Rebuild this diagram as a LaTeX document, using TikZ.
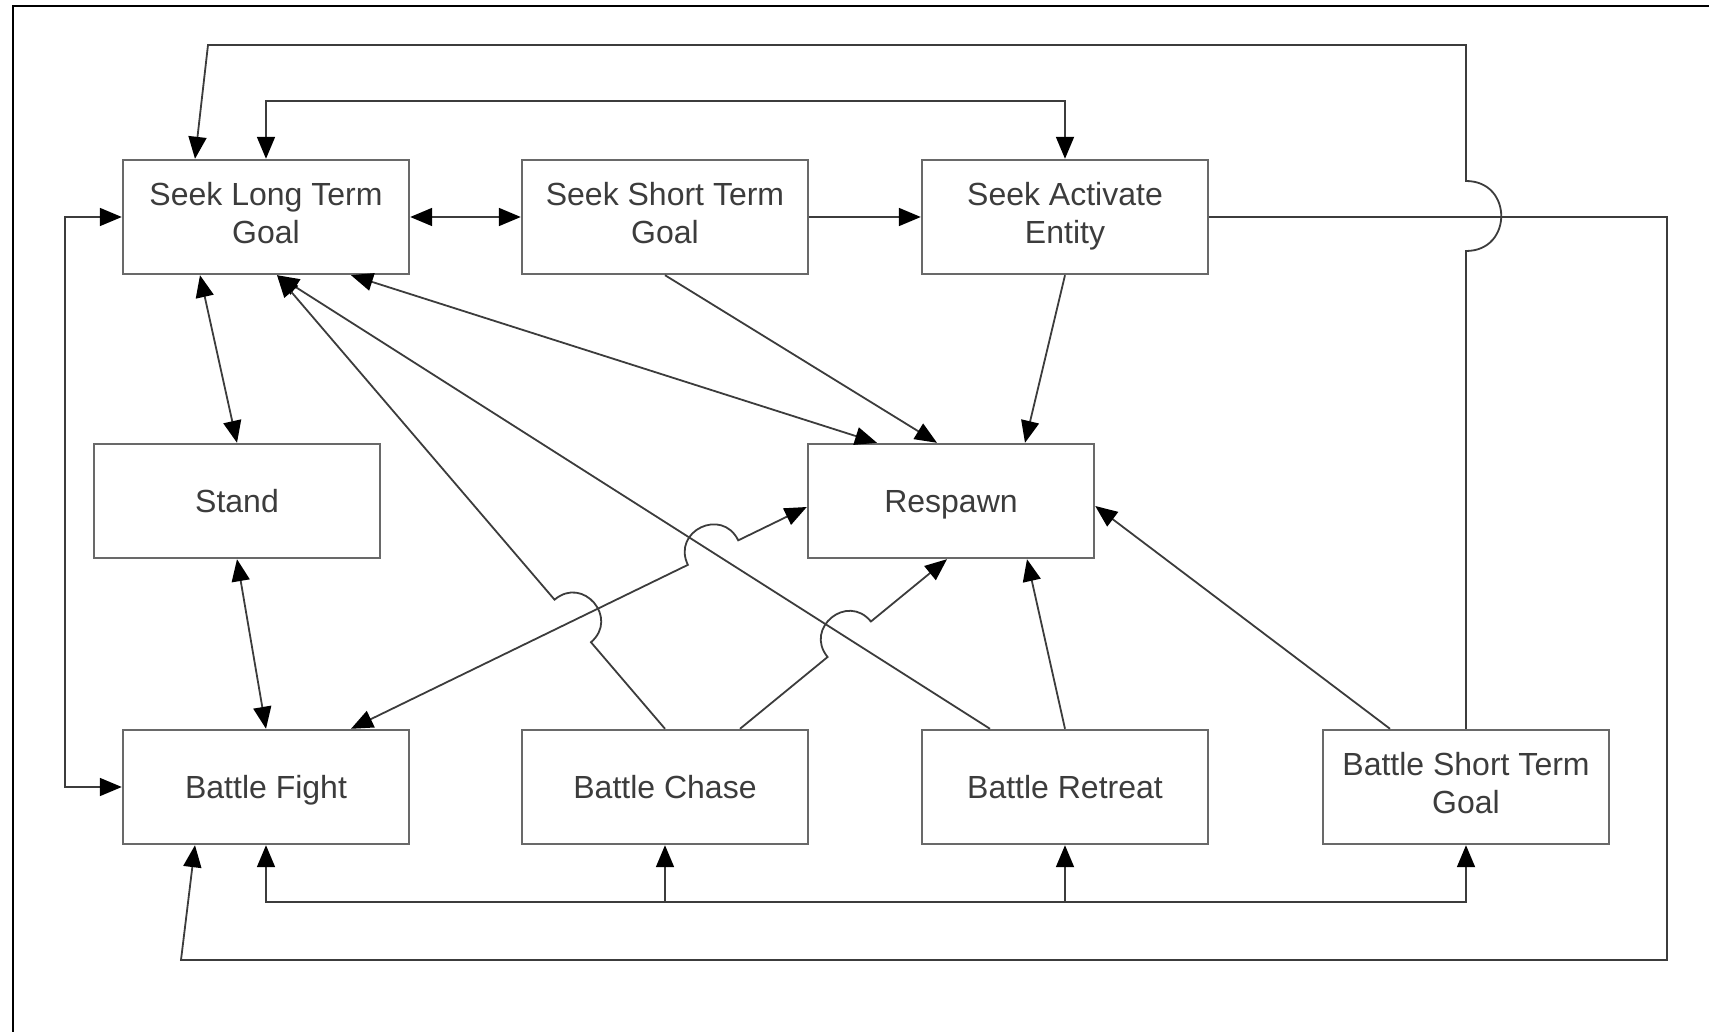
\documentclass[tikz,border=0pt]{standalone}
\usepackage{fontspec}
\setmainfont{Liberation Sans}
\usetikzlibrary{arrows.meta,calc}
\definecolor{boxgray}{RGB}{105,105,105}
\definecolor{linegray}{RGB}{60,60,60}
\definecolor{textgray}{RGB}{60,60,60}
\tikzset{
  state/.style={rectangle,draw=boxgray,line width=1.2pt,minimum width=143pt,minimum height=57pt,inner sep=0pt,align=center,text=textgray,font=\fontsize{16}{19}\selectfont,execute at begin node=\rule{0pt}{15.1pt},execute at end node=\rule[-3.9pt]{0pt}{3.9pt}},
  link/.style={draw=linegray,line width=0.9pt},
  >={Triangle[length=11pt,width=9pt,color=black]},
}
\newcommand{\hoppoints}[3]{%
  \coordinate (#1a) at ($(#1)!14pt!(#2)$);
  \coordinate (#1b) at ($(#1)!14pt!(#3)$);
  \coordinate (#1c) at ($(#1a)!18.67pt!90:(#1)$);
  \coordinate (#1d) at ($(#1b)!18.67pt!-90:(#1)$);}

\begin{document}
\begin{tikzpicture}[x=0.5pt,y=-0.5pt]
        \useasboundingbox (0,0) rectangle (1709,1032);
        \draw [line width=1pt] (13,1032)--(13,6)--(1709,6);

        \node (slt) at (266,217) [state] {Seek Long Term\\Goal};
        \node (sst) at (665,217) [state] {Seek Short Term\\Goal};
        \node (sae) at (1065,217) [state] {Seek Activate\\Entity};
        \node (stand) at (237,501) [state] {Stand};
        \node (respawn) at (951,501) [state] {Respawn};
        \node (fight) at (266,787) [state] {Battle Fight};
        \node (chase) at (665,787) [state] {Battle Chase};
        \node (retreat) at (1065,787) [state] {Battle Retreat};
        \node (bst) at (1466,787) [state] {Battle Short Term\\Goal};

        % end points of the crossing lines
        \coordinate (s1) at ($(slt.south)+(11,0)$);
        \coordinate (r1) at ($(respawn.west)+(0,6)$);
        \coordinate (f1) at ($(fight.north)+(85,0)$);
        \coordinate (c1) at (chase.north);
        \coordinate (c2) at ($(chase.north)+(75,0)$);
        \coordinate (t1) at ($(retreat.north)+(-75,0)$);
        \coordinate (r2) at ($(respawn.south)+(-4,0)$);
        \coordinate (x1) at (intersection of r1--f1 and t1--s1);
        \coordinate (x2) at (intersection of c1--s1 and r1--f1);
        \coordinate (x3) at (intersection of c2--r2 and t1--s1);
        \hoppoints{x1}{f1}{r1}
        \hoppoints{x2}{s1}{c1}
        \hoppoints{x3}{c2}{r2}

        \draw [link,<->] (slt.east)--(sst.west);
        \draw [link,->] (sst.east)--(sae.west);
        \draw [link,<->] ($(slt.south)+(-66,0)$)--(stand.north);
        \draw [link,<->] (stand.south)--(fight.north);
        \draw [link,<->] ($(slt.south)+(85,0)$)--($(respawn.north)+(-74,0)$);
        \draw [link,->] (sst.south)--($(respawn.north)+(-14,0)$);
        \draw [link,->] (sae.south)--($(respawn.north)+(74,0)$);
        \draw [link,->] (t1)--(s1);
        \draw [link,<-] (s1)--(x2a) .. controls (x2c) and (x2d) .. (x2b)--(c1);
        \draw [link,<->] (f1)--(x1a) .. controls (x1c) and (x1d) .. (x1b)--(r1);
        \draw [link,->] (c2)--(x3a) .. controls (x3c) and (x3d) .. (x3b)--(r2);
        \draw [link,->] (retreat.north)--($(respawn.south)+(76,0)$);
        \draw [link,->] ($(bst.north)+(-76,0)$)--($(respawn.east)+(0,5)$);

        \draw [link,<->] (slt.north)--++(0,-58)-|(sae.north);
        \draw [link,<->] (slt.west)--++(-57,0)|-(fight.west);
        \draw [link,->] (bst.north)--(1466,251) .. controls (1513,251) and (1513,181) .. (1466,181)
          --(1466,45)--(208,45)--($(slt.north)+(-71,0)$);
        \draw [link,->] (sae.east)-|(1667,960)--(181,960)--($(fight.south)+(-71,0)$);

        \coordinate (bus) at (0,902);
        \draw [link,<->] (fight.south)|-(bst.south |- bus)--(bst.south);
        \draw [link,->] (chase.south |- bus)--(chase.south);
        \draw [link,->] (retreat.south |- bus)--(retreat.south);
      \end{tikzpicture}
\end{document}
